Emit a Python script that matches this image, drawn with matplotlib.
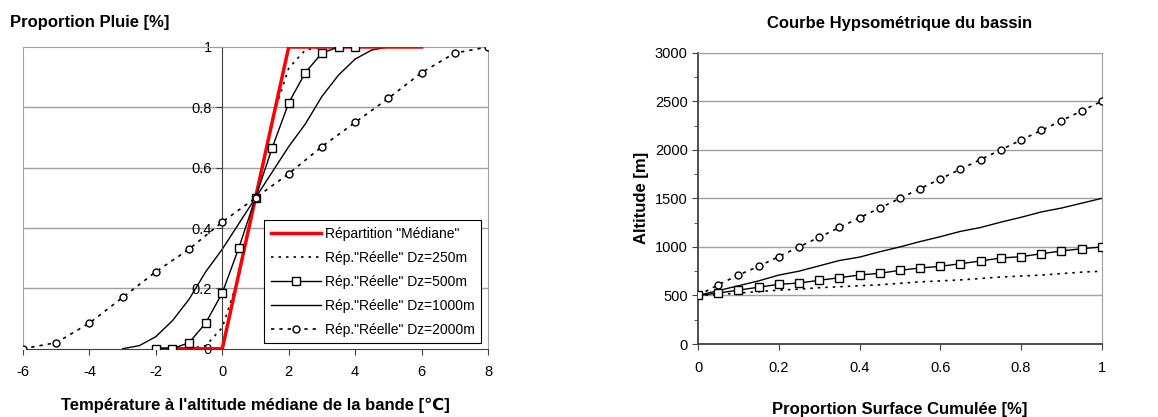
import matplotlib
matplotlib.use("Agg")
import matplotlib.pyplot as plt
from matplotlib.ticker import MultipleLocator

plt.rcParams['font.family'] = ['Liberation Sans', 'DejaVu Sans']
plt.rcParams['axes.unicode_minus'] = False

# --- left chart data : rain proportion vs temperature
t_med = [-2, 0, 1, 2, 6]
p_med = [0, 0, 0.5, 1, 1]

t_250 = [-1, -0.5, 0, 0.5, 1, 1.5, 2, 2.5, 3]
p_250 = [0, 0.01, 0.07, 0.24, 0.5, 0.76, 0.93, 0.99, 1.0]

t_500 = [-2, -1.5, -1, -0.5, 0, 0.5, 1, 1.5, 2, 2.5, 3, 3.5, 4]
p_500 = [0, 0, 0.02, 0.085, 0.185, 0.335, 0.5, 0.665, 0.815, 0.915, 0.98, 1.0, 1.0]

t_1000 = [-3, -2.5, -2, -1.5, -1, -0.5, 0, 0.5, 1, 1.5, 2, 2.5, 3, 3.5, 4, 4.5, 5]
p_1000 = [0, 0.01, 0.04, 0.093, 0.164, 0.255, 0.33, 0.415, 0.5,
          0.585, 0.67, 0.745, 0.836, 0.907, 0.96, 0.99, 1.0]

t_2000 = [-6, -5, -4, -3, -2, -1, 0, 1, 2, 3, 4, 5, 6, 7, 8]
p_2000 = [0, 0.02, 0.085, 0.17, 0.255, 0.33, 0.42, 0.5,
          0.58, 0.67, 0.75, 0.83, 0.915, 0.98, 1.0]

# --- right chart data : hypsometric curves
surf = [0, 0.05, 0.1, 0.15, 0.2, 0.25, 0.3, 0.35, 0.4, 0.45, 0.5,
        0.55, 0.6, 0.65, 0.7, 0.75, 0.8, 0.85, 0.9, 0.95, 1.0]
alt_250 = [500, 510, 525, 540, 555, 565, 580, 590, 600, 610, 625,
           640, 650, 660, 675, 690, 700, 710, 725, 740, 750]
alt_500 = [500, 525, 555, 585, 615, 628, 656, 683, 711, 728, 759,
           783, 800, 827, 855, 886, 899, 930, 958, 981, 1000]
alt_1000 = [500, 550, 600, 650, 710, 750, 805, 860, 895, 950, 1000,
            1055, 1105, 1160, 1200, 1255, 1305, 1360, 1400, 1450, 1500]
alt_2000 = [500, 610, 710, 800, 900, 1000, 1100, 1200, 1300, 1400, 1500,
            1600, 1700, 1800, 1900, 2000, 2100, 2200, 2300, 2400, 2500]

labels = ['Répartition "Médiane"', 'Rép."Réelle" Dz=250m', 'Rép."Réelle" Dz=500m',
          'Rép."Réelle" Dz=1000m', 'Rép."Réelle" Dz=2000m']

grey = '#a0a0a0'
dark = '#404040'
dot250 = (0, (1.5, 3))
dot2000 = (0, (2, 3))

fig = plt.figure(figsize=(11.58, 4.17), dpi=100)

# ---------------- left
ax1 = fig.add_axes([0.0199, 0.1638, 0.4015, 0.7235])
ax1.plot(t_med, p_med, color='red', lw=2.5, label=labels[0], zorder=3)
ax1.plot(t_250, p_250, color='black', lw=1.2, ls=dot250, label=labels[1])
ax1.plot(t_500, p_500, color='black', lw=1, marker='s', ms=6, mfc='white',
         mec='black', label=labels[2], zorder=4)
ax1.plot(t_1000, p_1000, color='black', lw=1, label=labels[3])
ax1.plot(t_2000, p_2000, color='black', lw=1.2, ls=dot2000, marker='o', ms=5,
         mfc='white', mec='black', label=labels[4], zorder=4)

ax1.set_xlim(-6, 8)
ax1.set_ylim(0, 1)
ax1.set_xticks(range(-6, 9, 2))
ax1.set_yticks([0, 0.2, 0.4, 0.6, 0.8, 1])
ax1.set_yticklabels(['0', '0.2', '0.4', '0.6', '0.8', '1'])
ax1.spines['left'].set_position(('data', 0))
ax1.spines['left'].set_color(dark)
ax1.spines['bottom'].set_color(dark)
ax1.spines['top'].set_color(grey)
ax1.spines['right'].set_color(grey)
ax1.axvline(-6, color=grey, lw=1.5, zorder=0)
for v in [0.2, 0.4, 0.6, 0.8]:
    ax1.axhline(v, color=grey, lw=1, zorder=0)
ax1.tick_params(axis='both', labelsize=10.5, color=dark, length=4)
ax1.tick_params(axis='x', pad=8)
ax1.set_xlabel("Température à l'altitude médiane de la bande [℃]",
               fontsize=12, fontweight='bold', labelpad=13)
fig.text(0.009, 0.945, 'Proportion Pluie [%]', fontsize=12, fontweight='bold',
         ha='left', va='center')
leg = ax1.legend(loc='lower right', bbox_to_anchor=(0.985, 0.019), fontsize=10,
                 frameon=True, fancybox=False, edgecolor='black', framealpha=1,
                 handlelength=3.6, borderpad=0.45, labelspacing=0.72,
                 handletextpad=0.3, borderaxespad=0)
leg.get_frame().set_linewidth(0.8)

# ---------------- right
ax2 = fig.add_axes([0.6028, 0.175, 0.3486, 0.6986])
ax2.plot(surf, alt_2000, color='black', lw=1.2, ls=dot2000, marker='o', ms=5,
         mfc='white', mec='black', zorder=4)
ax2.plot(surf, alt_1000, color='black', lw=1)
ax2.plot(surf, alt_500, color='black', lw=1, marker='s', ms=6, mfc='white',
         mec='black', zorder=4)
ax2.plot(surf, alt_250, color='black', lw=1.2, ls=dot250)

ax2.set_xlim(0, 1)
ax2.set_ylim(0, 3000)
ax2.set_xticks([0, 0.2, 0.4, 0.6, 0.8, 1])
ax2.set_xticklabels(['0', '0.2', '0.4', '0.6', '0.8', '1'])
ax2.set_yticks(range(0, 3001, 500))
ax2.yaxis.set_minor_locator(MultipleLocator(250))
for v in range(500, 3001, 500):
    ax2.axhline(v, color=grey, lw=1, zorder=0)
ax2.spines['left'].set_color(dark)
ax2.spines['bottom'].set_color(dark)
ax2.spines['left'].set_linewidth(1.3)
ax2.spines['bottom'].set_linewidth(1.3)
ax2.spines['top'].set_color(grey)
ax2.spines['right'].set_color(grey)
ax2.tick_params(axis='both', labelsize=10.5, color=dark, length=4)
ax2.tick_params(axis='y', which='minor', length=3, color=dark)
ax2.tick_params(axis='x', pad=8)
ax2.set_title('Courbe Hypsométrique du bassin', fontsize=12, fontweight='bold', pad=18)
ax2.set_xlabel('Proportion Surface Cumulée [%]', fontsize=12, fontweight='bold',
               labelpad=20)
ax2.set_ylabel('Altitude [m]', fontsize=12, fontweight='bold', labelpad=4)

fig.savefig('out.png', dpi=100)
